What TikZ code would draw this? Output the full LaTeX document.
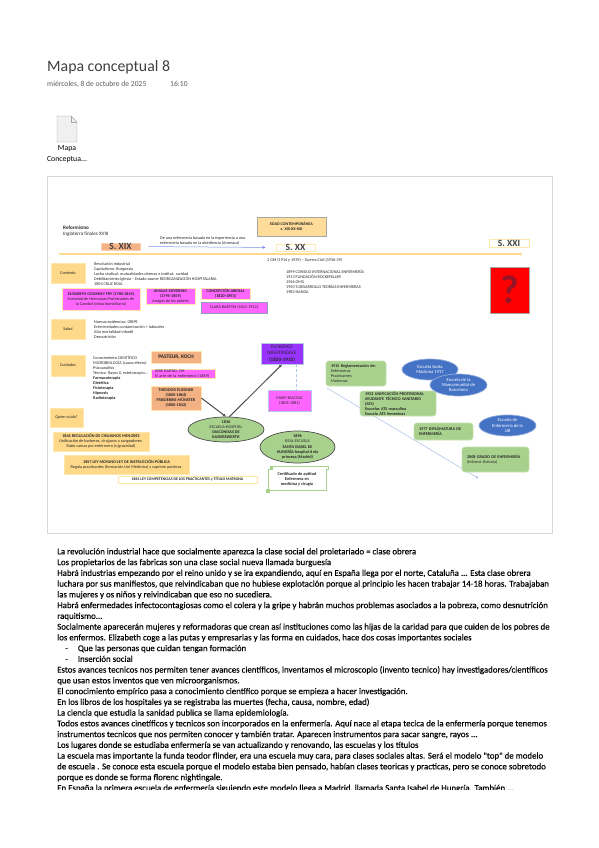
\documentclass[tikz,border=0pt]{standalone}
\usepackage{fontspec}
\setmainfont{Carlito}
\newfontfamily\notesfont[FakeBold=0.25]{Carlito}
\usetikzlibrary{positioning,calc,arrows.meta,shapes.geometric}
\definecolor{MapOrange}{RGB}{244,177,131}
\definecolor{MapYellow}{RGB}{255,217,138}
\definecolor{MapEdge}{RGB}{255,230,170}
\definecolor{MapMagenta}{RGB}{255,102,255}
\definecolor{MapPurple}{RGB}{153,51,255}
\definecolor{MapGreen}{RGB}{169,209,142}
\definecolor{MapBlue}{RGB}{68,114,196}
\definecolor{MapLine}{RGB}{180,199,231}

\begin{document}
\begin{tikzpicture}[
    x=1pt,
    y=-1pt,
    font=\fontsize{4.2}{5}\selectfont,
    >={Latex[length=3pt,width=3pt]},
    box/.style={
        draw,
        line width=0.7pt,
        inner sep=0pt,
        align=center,
        text=black!85
    },
    yellowbox/.style={
        box,
        draw=MapEdge,
        fill=MapYellow
    },
    paperbox/.style={
        box,
        draw=MapEdge,
        fill=white
    },
    orangebox/.style={
        box,
        draw=MapEdge,
        fill=MapOrange
    },
    pinkbox/.style={
        box,
        draw=MapEdge,
        fill=MapMagenta
    },
    greenbox/.style={
        box,
        draw=MapGreen!70,
        fill=MapGreen,
        rounded corners=3pt,
        align=left
    },
    greenoval/.style={
        box,
        ellipse,
        draw=black!70,
        fill=MapGreen
    },
    blueoval/.style={
        box,
        ellipse,
        draw=MapBlue!60,
        fill=MapBlue,
        text=white
    },
    plain/.style={
        inner sep=0pt,
        align=left,
        anchor=west,
        text=black!85
    },
    century/.style={
        font=\fontsize{9.5}{10}\selectfont\bfseries,
        text=black!75
    },
    arrow/.style={
        ->,
        line width=1pt,
        draw=black!70
    }
]
\useasboundingbox (0,0) rectangle (599,848);

% page header
\node[plain, font=\fontsize{15.8}{18}\selectfont, text=black!75] (title) at (47,67) {Mapa conceptual 8};
\node[plain, font=\fontsize{7.6}{9}\selectfont, text=black!65] (date) at (47,84) {miércoles, 8 de octubre de 2025};
\node[plain, font=\fontsize{7.6}{9}\selectfont, text=black!65] (hour) at (170,84) {16:10};

\draw[black!35, fill=black!6, rounded corners=0.5pt] (57,116) -- (71,116) -- (77,122) -- (77,142) -- (57,142) -- cycle;
\draw[black!35] (71,116) -- (71,122) -- (77,122);
\node[align=center, inner sep=0pt, font=\fontsize{7.8}{11}\selectfont] (iconname) at (67,154.5) {Mapa\\Conceptua...};

% frame of the map
\node[draw=black!15, line width=0.7pt, minimum width=505pt, minimum height=357pt, inner sep=0pt] (frame) at (299.5,354.5) {};

\node[plain, font=\fontsize{5.1}{6}\selectfont] (reform) at (63,231) {\textbf{Reformismo}\\Inglaterra finales XVIII};

% time line
\coordinate (linestart) at (59,254);
\coordinate (lineend) at (523,254);
\draw[-{Latex[length=3pt,width=3pt]}, MapYellow, line width=1.2pt] (linestart) -- (lineend);

\node[orangebox, draw=MapOrange!60, century, minimum width=39pt, minimum height=7pt] (sxix) at (120.5,246.5) {S. XIX};
\node[paperbox, century, minimum width=39pt, minimum height=7pt] (sxx) at (295.5,247.5) {S. XX};
\node[paperbox, century, minimum width=40pt, minimum height=8pt] (sxxi) at (509,243) {S. XXI};
\node[yellowbox, draw=black!35, fill=MapEdge!90!orange, font=\fontsize{4.1}{5}\selectfont\bfseries, minimum width=69pt, minimum height=19pt] (edad) at (291.5,226.5) {EDAD CONTEMPORÁNEA\\s. XIX-XX-XXI};

\draw[->, MapLine!70!blue, line width=0.5pt, shorten <=8pt, shorten >=10pt] (sxix.east) -- (sxx.west);
\node[plain] (shift) at (160,240.5) {De una enfermería basada en la experiencia a una\\enfermería basada en la obediencia (Amessca)};

\node[plain] (wars) at (267,260) {2 GM (1914 y 1939) – Guerra Civil (1936-39)};
\node[plain] (dates) at (286,282) {1899 CONSEJO INTERNACIONAL ENFERMERÍA\\1913 FUNDACIÓN ROCKEFELLER\\1946 OMS\\1950'S DESARROLLO TEORÍAS ENFERMERAS\\1982 NANDA};

\node[box, draw=black!35, fill=red, text={rgb,255:red,150;green,20;blue,40}, font=\fontsize{40}{40}\selectfont\bfseries, minimum width=39pt, minimum height=46pt] (future) at (509.5,290) {?};

% left column
\node[yellowbox, minimum width=34pt, minimum height=20pt] (contexto) at (68,273) {Contexto};
\node[plain] (contextlist) at (94,274) {Revolución industrial\\Capitalismo- Burguesía\\Lucha sindical: mutualidades obreras e institut. caridad\\Debilitamiento Iglesia – Estado asume REORGANIZACIÓN HOSPITALARIA\\1804 CRUZ ROJA};

\node[pinkbox, minimum width=78pt, minimum height=22pt] (fry) at (101,299) {\textbf{ELISABETH GOURNEY FRY (1780-1845)}\\Sociedad de Hermanas Protestantes de\\la Caridad (visita domiciliaria)};
\node[pinkbox, minimum width=49pt, minimum height=16pt] (sieveking) at (170.5,296) {\textbf{AMALIE SIEVEKING}\\\textbf{(1794-1859)}\\Amigos de los pobres};
\node[pinkbox, minimum width=49pt, minimum height=11pt] (arenal) at (225.5,293.5) {\textbf{CONCEPCIÓN ARENAL}\\\textbf{(1820-1893)}};
\node[pinkbox, draw=MapLine!80!black, minimum width=66pt, minimum height=11pt] (barton) at (234,307.5) {CLARA BARTON (1821-1912)};

\node[yellowbox, minimum width=34pt, minimum height=20pt] (salud) at (68,329) {Salud};
\node[plain] (saludlist) at (94,330) {Nuevas epidemias: GRIPE\\Enfermedades contaminación + laborales\\Alta mortalidad infantil\\Desnutrición};

\node[yellowbox, minimum width=34pt, minimum height=21pt] (cuidados) at (68,365.5) {Cuidados};
\node[plain] (cuidadoslist) at (93,378) {Conocimiento CIENTÍFICO\\MICROBIOLOGÍA (causa efecto)\\Psicoanálisis\\Técnica: Rayos X, estetoscopio...\\\textbf{Farmacoterapia}\\\textbf{Dietética}\\\textbf{Fisioterapia}\\\textbf{Hipnosis}\\\textbf{Radioterapia}};

\node[yellowbox, minimum width=33pt, minimum height=19pt] (quien) at (66.5,417.5) {Quien cuida?};

\node[orangebox, font=\fontsize{5.4}{6}\selectfont\bfseries, minimum width=50pt, minimum height=12pt] (pasteur) at (176,357) {PASTEUR, KOCH};
\node[pinkbox, align=left, minimum width=64pt, minimum height=9pt, text width=56pt] (bueno) at (183,373.5) {JOSE BUENO, DH\\El arte de la enfermería (1859)};
\node[orangebox, font=\fontsize{4.2}{5.1}\selectfont\bfseries, minimum width=50pt, minimum height=24pt] (theodor) at (176,398) {THEODOR FLIEDNER\\(1800-1864)\\FRIEDERIKE MÜNSTER\\(1800-1842)};

% laws
\node[yellowbox, minimum width=96pt, minimum height=19pt] (law1846) at (101,441.5) {\textbf{1846 REGULACIÓN DE CIRUJANOS MENORES}\\Unificación de barberos, cirujanos y sangradores.\\Ratio camas por enfermero (s/gravedad)};
\node[yellowbox, minimum width=125pt, minimum height=19pt] (law1857) at (126.5,464.5) {\textbf{1857 LEY MOYANO-LEY DE INSTRUCCIÓN PÚBLICA}\\Regula practicantes (formación Uni Medicina) y suprime parteras.};
\node[paperbox, font=\fontsize{3.9}{5}\selectfont\bfseries, minimum width=139pt, minimum height=7pt] (law1861) at (187.5,479.5) {1861 LEY COMPETENCIAS DE LOS PRACTICANTES y TÍTULO MATRONA};

% schools
\node[box, draw=MapLine, fill=MapPurple, font=\fontsize{5.2}{6.7}\selectfont, minimum width=42pt, minimum height=21pt] (florence) at (282,353.5) {FLORENCE\\NIGHTINGALE\\\textbf{(1820-1910)}};
\node[pinkbox, draw=MapLine, minimum width=43pt, minimum height=21pt] (mary) at (289.5,400.5) {MARY SEACOLE\\(1805-1881)};
\node[greenoval, minimum width=76pt, minimum height=25pt] (kaiser) at (226,429.5) {};
\node[box, draw=none, font=\fontsize{4.2}{5.2}\selectfont] (kaisertext) at (kaiser) {\textbf{1836}\\ESCUELA-HOSPITAL\\\textbf{DIACONISAS DE}\\\textbf{KAISERSWERTH}};
\node[greenoval, minimum width=75pt, minimum height=32pt] (isabel) at (297.5,447) {};
\node[box, draw=none, font=\fontsize{4.2}{5.2}\selectfont] (isabeltext) at (isabel) {\textbf{1896}\\REAL ESCUELA\\\textbf{SANTA ISABEL DE}\\\textbf{HUNGRÍA-hospital d ela}\\\textbf{princesa (Madrid)}};

\coordinate (marytop) at (296,390);
\draw[arrow] (theodor.east) -- (kaiser.north);
\draw[arrow] (kaiser.75) -- (florence.south);
\draw[MapLine, densely dashed, line width=0.6pt] (florence.south -| marytop) -- (marytop);

% certificate
\draw[MapGreen, line width=0.6pt, fill=white] (270,466) -- (328,466) -- (328,469.5) -- (326,469.5) -- (326,490) -- (268,490) -- (268,469.5) -- (270,469.5) -- cycle;
\draw[MapGreen, fill=MapGreen] (266,489) rectangle (269,492);
\draw[MapGreen, fill=MapGreen] (270,466) rectangle (272,469.5);
\node[box, draw=none, font=\fontsize{4.3}{5.3}\selectfont\bfseries] (cert) at (297,479.5) {Certificado de aptitud\\Enfermera en\\medicina y cirugía};

% long line goes under the green boxes
\coordinate (longstart) at (327,388);
\coordinate (longend) at (478,478);
\draw[-{Circle[length=2.5pt]}, MapLine, line width=0.6pt] (longstart) -- (longend);

\node[greenbox, minimum width=60pt, minimum height=25pt, text width=50pt] (law1915) at (356,373.5) {\textbf{1915 Reglamentación de:}\\Enfermeras\\Practicantes\\Matronas};
\node[greenbox, minimum width=76pt, minimum height=25pt, text width=66pt] (unif) at (398,403.5) {\textbf{1952 UNIFICACIÓN PROFESIONAL}\\\textbf{AYUDANTE TÉCNICO SANITARIO}\\\textbf{(ATS)}\\\textbf{Escuelas ATS masculina}\\\textbf{Escuela ATS femeninas}};
\node[greenbox, minimum width=59pt, minimum height=17pt, text width=49pt] (dipl) at (443.5,431.5) {\textbf{1977 DIPLOMATURA DE}\\\textbf{ENFERMERÍA}};
\node[greenbox, minimum width=67pt, minimum height=25pt, text width=57pt] (grado) at (495.5,459.5) {\textbf{2008 GRADO DE ENFERMERÍA}\\(Informe Bolonia)};

\node[blueoval, minimum width=56pt, minimum height=21pt] (madrona) at (430,369.5) {};
\node[box, draw=none, text=white, font=\fontsize{4.6}{5.4}\selectfont] (madronatext) at (madrona) {Escuela Santa\\Madrona 1917};
\node[blueoval, minimum width=57pt, minimum height=22pt] (mancom) at (458.5,385) {};
\node[box, draw=none, text=white, font=\fontsize{4.6}{5.4}\selectfont] (mancomtext) at (mancom) {Escuela de la\\Mancomunitat de\\Barcelona};
\node[blueoval, minimum width=57pt, minimum height=21pt] (ub) at (507.5,425.5) {};
\node[box, draw=none, text=white, font=\fontsize{4.6}{5.4}\selectfont] (ubtext) at (ub) {Escuela de\\Enfermería de la\\UB};

% notes under the map
\begin{scope}
\clip (40,540) rectangle (560,789.5);
\node[plain, anchor=north west, font=\notesfont\fontsize{8.85}{10.75}\selectfont, text=black] (notes) at (57,548) {La revolución industrial hace que socialmente aparezca la clase social del proletariado = clase obrera\\
Los propietarios de las fabricas son una clase social nueva llamada burguesía\\
Habrá industrias empezando por el reino unido y se ira expandiendo, aquí en España llega por el norte, Cataluña ... Esta clase obrera\\
luchara por sus manifiestos, que reivindicaban que no hubiese explotación porque al principio les hacen trabajar 14-18 horas. Trabajaban\\
las mujeres y os niños y reivindicaban que eso no sucediera.\\
Habrá enfermedades infectocontagiosas como el colera y la gripe y habrán muchos problemas asociados a la pobreza, como desnutrición\\
raquitismo...\\
Socialmente aparecerán mujeres y reformadoras que crean así instituciones como las hijas de la caridad para que cuiden de los pobres de\\
los enfermos. Elizabeth coge a las putas y empresarias y las forma en cuidados, hace dos cosas importantes sociales\\
\hspace*{8pt}-\hspace{10pt}Que las personas que cuidan tengan formación\\
\hspace*{8pt}-\hspace{10pt}Inserción social\\
Estos avances tecnicos nos permiten tener avances científicos, inventamos el microscopio (invento tecnico) hay investigadores/científicos\\
que usan estos inventos que ven microorganismos.\\
El conocimiento empírico pasa a conocimiento científico porque se empieza a hacer investigación.\\
En los libros de los hospitales ya se registraba las muertes (fecha, causa, nombre, edad)\\
La ciencia que estudia la sanidad publica se llama epidemiología.\\
Todos estos avances cinetíficos y tecnicos son incorporados en la enfermería. Aquí nace al etapa tecica de la enfermería porque tenemos\\
instrumentos tecnicos que nos permiten conocer y también tratar. Aparecen instrumentos para sacar sangre, rayos ...\\
Los lugares donde se estudiaba enfermería se van actualizando y renovando, las escuelas y los títulos\\
La escuela mas importante la funda teodor flinder, era una escuela muy cara, para clases sociales altas. Será el modelo "top" de modelo\\
de escuela . Se conoce esta escuela porque el modelo estaba bien pensado, habían clases teoricas y practicas, pero se conoce sobretodo\\
porque es donde se forma florenc nightingale.\\
En España la primera escuela de enfermería siguiendo este modelo llega a Madrid, llamada Santa Isabel de Hungría. También ...};
\end{scope}

\end{tikzpicture}
\end{document}
